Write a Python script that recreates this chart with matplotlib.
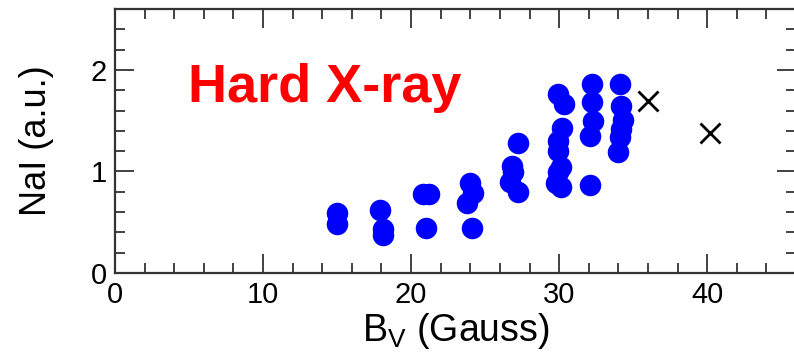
import matplotlib
matplotlib.use("Agg")
import matplotlib.pyplot as plt
from matplotlib.ticker import MultipleLocator

plt.rcParams['font.family'] = ['Liberation Sans', 'DejaVu Sans']

# shots at each B_V setting
bv_shots = [15.0, 15.0,
            17.9, 18.1, 18.1,
            20.8, 21.2, 21.0,
            24.0, 24.2, 23.8, 24.1,
            27.2, 26.8, 26.9, 26.7, 27.2,
            29.9, 30.3, 30.2, 29.9, 29.9, 30.1, 29.9, 29.8, 30.1,
            32.2, 32.2, 32.3, 32.1, 32.1,
            34.1, 34.2, 34.3, 34.2, 34.1, 34.0]
nai_shots = [0.59, 0.48,
             0.62, 0.43, 0.37,
             0.78, 0.78, 0.44,
             0.89, 0.79, 0.69, 0.44,
             1.28, 1.05, 0.99, 0.90, 0.80,
             1.76, 1.66, 1.43, 1.30, 1.20, 1.04, 0.99, 0.89, 0.85,
             1.86, 1.68, 1.50, 1.35, 0.87,
             1.86, 1.64, 1.51, 1.42, 1.34, 1.19]

# disrupted / odd shots drawn as crosses
bv_cross = [36.0, 40.2]
nai_cross = [1.69, 1.38]

x_ticks = [0, 10, 20, 30, 40]
y_ticks = [0, 1, 2]

fig = plt.figure(figsize=(7.94, 3.59), dpi=100)
ax = fig.add_axes([115 / 794, 86 / 359, 681 / 794, 264 / 359])

ax.plot(bv_shots, nai_shots, 'o', color='#0000ff', markersize=15.5,
        markeredgewidth=0, linestyle='none')
ax.plot(bv_cross, nai_cross, 'x', color='black', markersize=14,
        markeredgewidth=2.0, linestyle='none')

ax.text(4.9, 1.68, 'Hard X-ray', color='#ff0000', fontsize=39,
        fontweight='bold', ha='left', va='baseline')

ax.set_xlim(0, 46)
ax.set_ylim(0, 2.6)
ax.set_xticks(x_ticks)
ax.set_yticks(y_ticks)
ax.xaxis.set_minor_locator(MultipleLocator(2))
ax.yaxis.set_minor_locator(MultipleLocator(0.2))

ax.tick_params(which='both', direction='in', top=True, right=True,
               colors='#333333', labelcolor='black', labelsize=21, pad=6)
ax.tick_params(which='major', length=13.7, width=1.3)
ax.tick_params(which='minor', length=7.2, width=1.3)
for sp in ax.spines.values():
    sp.set_linewidth(1.6)
    sp.set_color('#333333')

ax.set_xlabel(r'B$_\mathregular{V}$ (Gauss)', fontsize=27, labelpad=1)
ax.set_ylabel('NaI (a.u.)', fontsize=26, labelpad=26)

fig.savefig('out.png', dpi=100)
